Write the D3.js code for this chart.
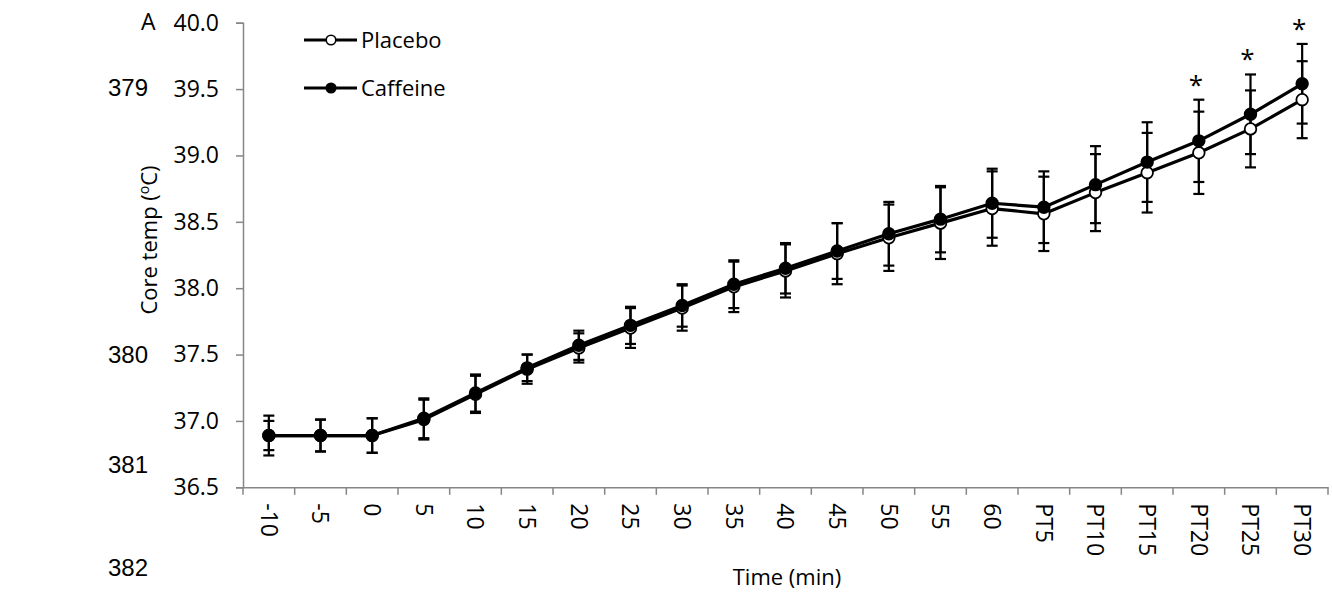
<!DOCTYPE html>
<html>
<head>
<meta charset="utf-8">
<script src="https://cdn.jsdelivr.net/npm/d3@7"></script>
<style>
  html, body { margin: 0; padding: 0; background: #fff; }
  svg { display: block; }
  text { font-family: "Open Sans", "Noto Sans", sans-serif; fill: #000; }
</style>
</head>
<body>
<svg id="chart" width="1332" height="599"></svg>
<script>
const categories = ["-10","-5","0","5","10","15","20","25","30","35","40","45","50","55","60","PT5","PT10","PT15","PT20","PT25","PT30"];
const placebo    = [36.89,36.89,36.89,37.01,37.20,37.39,37.55,37.70,37.85,38.01,38.13,38.26,38.38,38.49,38.60,38.56,38.72,38.87,39.02,39.20,39.42];
const caffeine   = [36.89,36.89,36.89,37.02,37.21,37.40,37.57,37.72,37.87,38.03,38.15,38.28,38.41,38.52,38.64,38.61,38.78,38.95,39.11,39.31,39.54];
const placeboSD  = [0.11,0.12,0.13,0.15,0.14,0.11,0.11,0.15,0.17,0.19,0.20,0.23,0.25,0.27,0.28,0.28,0.29,0.30,0.31,0.29,0.29];
const caffeineSD = [0.15,0.12,0.13,0.15,0.14,0.10,0.11,0.14,0.16,0.18,0.19,0.21,0.24,0.25,0.26,0.27,0.29,0.30,0.31,0.30,0.30];
const significant = ["PT20","PT25","PT30"];
const yTicks = [36.5,37.0,37.5,38.0,38.5,39.0,39.5,40.0];
const lineNumbers = [{n:"379", y:88},{n:"380", y:355},{n:"381", y:465},{n:"382", y:568}];

(function () {
const svg = d3.select("#chart");
const mLeft = 243, mRight = 1328, mTop = 22.7, mBottom = 487.3;
const axisColor = "#868686";

const x = d3.scaleBand().domain(categories).range([mLeft, mRight]);
const y = d3.scaleLinear().domain([36.5, 40.0]).range([mBottom, mTop]);
const cx = c => x(c) + x.bandwidth() / 2;

// line numbers
svg.append("g").selectAll("text").data(lineNumbers).join("text")
  .attr("x", 108).attr("y", d => d.y).attr("dy", "0.35em")
  .style("font-family", "'Liberation Sans', Arial, sans-serif")
  .style("font-size", "24px").text(d => d.n);

// panel letter
svg.append("text").attr("x", 141).attr("y", 22).attr("dy", "0.36em")
  .style("font-size", "23px").text("A");

// y axis
const yAxis = svg.append("g").attr("transform", `translate(${mLeft},0)`)
  .call(d3.axisLeft(y).tickValues(yTicks).tickFormat(d3.format(".1f")).tickSizeOuter(0).tickSize(7).tickPadding(17));
yAxis.select(".domain").attr("stroke", axisColor).attr("stroke-width", 1.5);
yAxis.selectAll(".tick line").attr("stroke", axisColor).attr("stroke-width", 1.5);
yAxis.selectAll(".tick text").style("font-size", "23px").attr("font-family", null);

// x axis
const xAxis = svg.append("g").attr("transform", `translate(0,${mBottom})`)
  .call(d3.axisBottom(x).tickSize(0).tickSizeOuter(0));
xAxis.select(".domain").attr("stroke", axisColor).attr("stroke-width", 1.5);
xAxis.selectAll(".tick line").remove();
xAxis.selectAll(".tick text")
  .attr("transform", "rotate(90)")
  .attr("x", 16).attr("y", 0).attr("dy", "0.35em")
  .attr("text-anchor", "start")
  .attr("font-family", null)
  .style("font-size", "23px");
// boundary tick marks (between categories)
const bounds = categories.map(c => x(c)).concat([x(categories[categories.length-1]) + x.bandwidth()]);
svg.append("g").selectAll("line").data(bounds).join("line")
  .attr("x1", d => d).attr("x2", d => d).attr("y1", mBottom).attr("y2", mBottom + 7.5)
  .attr("stroke", axisColor).attr("stroke-width", 1.5);

// axis titles
svg.append("text").attr("transform", `translate(157,240) rotate(-90)`)
  .attr("text-anchor", "middle").style("font-size", "22px")
  .call(t => {
    t.append("tspan").text("Core temp (");
    t.append("tspan").text("o").style("font-size", "14px").attr("dy", "-8");
    t.append("tspan").text("C)").attr("dy", "8");
  });
svg.append("text").attr("x", 787).attr("y", 585).attr("text-anchor", "middle")
  .style("font-size", "22px").text("Time (min)");

// series
const series = [
  {name: "Placebo", values: placebo, sd: placeboSD, fill: "#fff"},
  {name: "Caffeine", values: caffeine, sd: caffeineSD, fill: "#000"}
];
const line = d3.line().x((d, i) => cx(categories[i])).y(d => y(d));

series.forEach(s => {
  svg.append("path").datum(s.values).attr("d", line)
    .attr("fill", "none").attr("stroke", "#000").attr("stroke-width", 3.2).attr("stroke-linejoin", "round");
});

series.forEach(s => {
  const g = svg.append("g");
  const data = s.values.map((v, i) => ({c: categories[i], v, sd: s.sd[i]}));
  g.selectAll("line.v").data(data).join("line").attr("class", "v")
    .attr("x1", d => cx(d.c)).attr("x2", d => cx(d.c))
    .attr("y1", d => y(d.v + d.sd)).attr("y2", d => y(d.v - d.sd))
    .attr("stroke", "#000").attr("stroke-width", 2.2);
  [1, -1].forEach(sign => {
    g.append("g").selectAll("line").data(data).join("line")
      .attr("x1", d => cx(d.c) - 5.5).attr("x2", d => cx(d.c) + 5.5)
      .attr("y1", d => y(d.v + sign * d.sd)).attr("y2", d => y(d.v + sign * d.sd))
      .attr("stroke", "#000").attr("stroke-width", 2.2);
  });
});

series.forEach(s => {
  svg.append("g").selectAll("circle").data(s.values).join("circle")
    .attr("cx", (d, i) => cx(categories[i])).attr("cy", d => y(d)).attr("r", 5.8)
    .attr("fill", s.fill).attr("stroke", "#000").attr("stroke-width", 1.8);
});

// significance stars
svg.append("g").selectAll("text").data(significant).join("text")
  .attr("x", c => cx(c) - 3)
  .attr("y", c => {
    const i = categories.indexOf(c);
    return y(Math.max(placebo[i] + placeboSD[i], caffeine[i] + caffeineSD[i])) - 6;
  })
  .attr("text-anchor", "middle").style("font-size", "26px").text("*");

// legend
const legend = svg.append("g");
series.forEach((s, i) => {
  const ly = 40 + i * 48;
  legend.append("line").attr("x1", 304).attr("x2", 357).attr("y1", ly).attr("y2", ly)
    .attr("stroke", "#000").attr("stroke-width", 3);
  legend.append("circle").attr("cx", 331).attr("cy", ly).attr("r", 4.8)
    .attr("fill", s.fill).attr("stroke", "#000").attr("stroke-width", 1.6);
  legend.append("text").attr("x", 361).attr("y", ly).attr("dy", "0.36em")
    .style("font-size", "22px").text(s.name);
});
})();
</script>
</body>
</html>
